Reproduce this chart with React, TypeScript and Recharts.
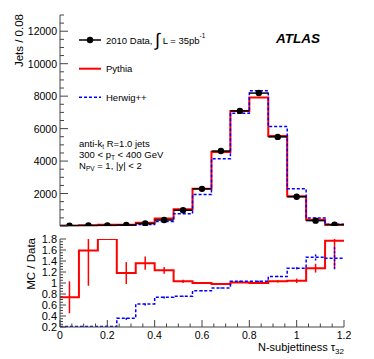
import React from "react";
import { ComposedChart, Line, Scatter, XAxis, YAxis, ErrorBar, Label } from "recharts";

// 15 bins of width 0.08 in tau32
const binLow = [0, 0.08, 0.16, 0.24, 0.32, 0.4, 0.48, 0.56, 0.64, 0.72, 0.8, 0.88, 0.96, 1.04, 1.12];
const binWidth = 0.08;

// upper panel: jets / 0.08
const dataCounts = [25, 30, 40, 60, 150, 370, 970, 2290, 4620, 7090, 8190, 5490, 1800, 330, 80];
const pythiaCounts = [18, 48, 80, 70, 200, 460, 1030, 2290, 4560, 7090, 7920, 5550, 1835, 390, 70];
const herwigCounts = [5, 6, 8, 22, 95, 270, 760, 1940, 4150, 6950, 8330, 6130, 2290, 495, 110];

// lower panel: MC / Data
const pythiaRatio = [0.74, 1.59, 1.8, 1.18, 1.36, 1.23, 1.03, 1.0, 0.98, 1.01, 1.0, 1.03, 1.04, 1.27, 1.77];
const pythiaRatioErr = [0.29, 0.64, 0, 0.2, 0.12, 0.06, 0.03, 0.02, 0.01, 0.01, 0.01, 0.02, 0.04, 0.08, 0.5];
const herwigRatio = [0.21, 0.21, 0.21, 0.36, 0.62, 0.74, 0.76, 0.86, 0.91, 1.03, 1.03, 1.12, 1.27, 1.47, 1.45];
const herwigRatioErr = [0, 0, 0.02, 0.03, 0.03, 0.02, 0.01, 0.01, 0.01, 0.01, 0.01, 0.01, 0.02, 0.06, 0.2];

// tick labels
const xLabels = [0, 0.2, 0.4, 0.6, 0.8, 1, 1.2];
const upperYLabels = [2000, 4000, 6000, 8000, 10000, 12000];
const lowerYLabels = [0.2, 0.4, 0.6, 0.8, 1, 1.2, 1.4, 1.6, 1.8];

const upperDomain: [number, number] = [0, 13000];
const lowerDomain: [number, number] = [0.2, 1.8];

const range = (a: number, b: number, step: number) => {
  const out: number[] = [];
  const n = Math.round((b - a) / step);
  for (let i = 0; i <= n; i++) out.push(Math.round((a + i * step) * 1000) / 1000);
  return out;
};
const xTicks = range(0, 1.2, 0.05);
const upperYTicks = range(0, 13000, 500);
const lowerYTicks = range(0.2, 1.8, 0.05);

const FONT = "'Liberation Sans', Arial, Helvetica, sans-serif";
const FRAME = "#444";

const stepData = (vals: number[]) => [
  ...binLow.map((x, i) => ({ x, y: vals[i] })),
  { x: binLow[binLow.length - 1] + binWidth, y: vals[vals.length - 1] },
];
// error bars are cut at the frame like ROOT does
const pointData = (vals: number[], errs?: number[], dom?: [number, number]) =>
  binLow.map((lo, i) => {
    const e = errs ? errs[i] : 0;
    const v = vals[i];
    const down = dom ? Math.max(0, Math.min(e, v - dom[0])) : e;
    const up = dom ? Math.max(0, Math.min(e, dom[1] - v)) : e;
    return { x: lo + binWidth / 2, y: v, ex: binWidth / 2, ey: [down, up] };
  });

type Side = "left" | "right" | "top" | "bottom";
const near = (a: number, b: number) => Math.abs(a - b) < 1e-6;
const isMult = (v: number, step: number) => near(v / step, Math.round(v / step));

function frameTick(side: Side, major: number, majorLen: number, minorLen: number, labels: number[] | null, fontSize: number) {
  return (props: any) => {
    const { x, y, payload } = props;
    const v = payload.value;
    const len = isMult(v, major) ? majorLen : minorLen;
    let x2 = x;
    let y2 = y;
    if (side === "left") x2 = x + len;
    if (side === "right") x2 = x - len;
    if (side === "top") y2 = y + len;
    if (side === "bottom") y2 = y - len;
    const show = labels && labels.some((l) => near(l, v));
    return (
      <g>
        <line x1={x} y1={y} x2={x2} y2={y2} stroke={FRAME} strokeWidth={1} />
        {show && side === "left" && (
          <text x={x - 3} y={y} textAnchor="end" dominantBaseline="central" fontSize={fontSize} fontFamily={FONT} fill="#000">
            {String(v)}
          </text>
        )}
        {show && side === "bottom" && (
          <text x={x} y={y + 8} textAnchor="middle" dominantBaseline="central" fontSize={fontSize} fontFamily={FONT} fill="#000">
            {String(v)}
          </text>
        )}
      </g>
    );
  };
}

const Empty = () => <g />;
const Dot = (p: any) => <circle cx={p.cx} cy={p.cy} r={3.2} fill="#000" />;

const yTitle = (text: string, dx: number) => (p: any) => {
  const vb = p.viewBox;
  return (
    <text
      transform={`translate(${vb.x + dx}, ${vb.y - 1}) rotate(-90)`}
      textAnchor="end"
      dominantBaseline="central"
      fontSize={11.5}
      fontFamily={FONT}
      fill="#000"
    >
      {text}
    </text>
  );
};

const xTitle = (p: any) => {
  const vb = p.viewBox;
  return (
    <text x={vb.x + vb.width} y={vb.y + 24} textAnchor="end" fontSize={11} fontFamily={FONT} fill="#000">
      N-subjettiness τ
      <tspan fontSize={8} dy={3}>32</tspan>
    </text>
  );
};

export default function App() {
  return (
    <div style={{ position: "absolute", left: 0, top: 0, width: 374, height: 359, background: "#fff" }}>
      <ComposedChart width={374} height={232} margin={{ top: 15, right: 30, bottom: 6, left: 0 }}>
        <XAxis dataKey="x" type="number" domain={[0, 1.2]} allowDataOverflow ticks={xTicks} interval={0}
          height={0} tickSize={0} tickMargin={0} tickLine={false} axisLine={{ stroke: FRAME }}
          tick={frameTick("bottom", 0.2, 5, 3, null, 11)} />
        <XAxis xAxisId="t" orientation="top" type="number" domain={[0, 1.2]} allowDataOverflow ticks={xTicks} interval={0}
          height={0} tickSize={0} tickMargin={0} tickLine={false} axisLine={{ stroke: FRAME }}
          tick={frameTick("top", 0.2, 5, 3, null, 11)} />
        <YAxis dataKey="y" type="number" domain={upperDomain} allowDataOverflow ticks={upperYTicks} interval={0}
          width={60} tickSize={0} tickMargin={0} tickLine={false} axisLine={{ stroke: FRAME }}
          tick={frameTick("left", 2000, 8, 4, upperYLabels, 10.5)}>
          <Label content={yTitle("Jets / 0.08", 19)} />
        </YAxis>
        <YAxis yAxisId="r" orientation="right" type="number" domain={upperDomain} allowDataOverflow ticks={upperYTicks} interval={0}
          width={0} tickSize={0} tickMargin={0} tickLine={false} axisLine={{ stroke: FRAME }}
          tick={frameTick("right", 2000, 8, 4, null, 10.5)} />

        <Line data={stepData(pythiaCounts)} dataKey="y" type="stepAfter" stroke="#ff0000" strokeWidth={2}
          dot={false} isAnimationActive={false} />
        <Line data={stepData(herwigCounts)} dataKey="y" type="stepAfter" stroke="#0000ff" strokeWidth={1.5}
          strokeDasharray="3 2" dot={false} isAnimationActive={false} />
        <Scatter data={pointData(dataCounts)} shape={Dot} isAnimationActive={false}>
          <ErrorBar dataKey="ex" direction="x" width={0} stroke="#000" strokeWidth={1.5} />
        </Scatter>
      </ComposedChart>

      <ComposedChart width={374} height={127} margin={{ top: 7, right: 30, bottom: 0, left: 0 }}>
        <XAxis dataKey="x" type="number" domain={[0, 1.2]} allowDataOverflow ticks={xTicks} interval={0}
          height={32} tickSize={0} tickMargin={0} tickLine={false} axisLine={{ stroke: FRAME }}
          tick={frameTick("bottom", 0.2, 7, 3.5, xLabels, 10.5)}>
          <Label content={xTitle} />
        </XAxis>
        <XAxis xAxisId="t" orientation="top" type="number" domain={[0, 1.2]} allowDataOverflow ticks={xTicks} interval={0}
          height={0} tickSize={0} tickMargin={0} tickLine={false} axisLine={{ stroke: FRAME }}
          tick={frameTick("top", 0.2, 7, 3.5, null, 11)} />
        <YAxis dataKey="y" type="number" domain={lowerDomain} allowDataOverflow ticks={lowerYTicks} interval={0}
          width={60} tickSize={0} tickMargin={0} tickLine={false} axisLine={{ stroke: FRAME }}
          tick={frameTick("left", 0.2, 6, 3, lowerYLabels, 11)}>
          <Label content={yTitle("MC / Data", 31)} />
        </YAxis>
        <YAxis yAxisId="r" orientation="right" type="number" domain={lowerDomain} allowDataOverflow ticks={lowerYTicks} interval={0}
          width={0} tickSize={0} tickMargin={0} tickLine={false} axisLine={{ stroke: FRAME }}
          tick={frameTick("right", 0.2, 6, 3, null, 11)} />

        <Line data={stepData(pythiaRatio)} dataKey="y" type="stepAfter" stroke="#ff0000" strokeWidth={2}
          dot={false} isAnimationActive={false} />
        <Scatter data={pointData(pythiaRatio, pythiaRatioErr, lowerDomain)} shape={Empty} isAnimationActive={false}>
          <ErrorBar dataKey="ey" direction="y" width={0} stroke="#ff0000" strokeWidth={1.5} />
        </Scatter>
        <Line data={stepData(herwigRatio)} dataKey="y" type="stepAfter" stroke="#0000ff" strokeWidth={1.5}
          strokeDasharray="3 2" dot={false} isAnimationActive={false} />
        <Scatter data={pointData(herwigRatio, herwigRatioErr, lowerDomain)} shape={Empty} isAnimationActive={false}>
          <ErrorBar dataKey="ey" direction="y" width={0} stroke="#0000ff" strokeWidth={1.5} strokeDasharray="2 2" />
        </Scatter>
      </ComposedChart>

      {/* legend and labels */}
      <svg width={374} height={232} style={{ position: "absolute", left: 0, top: 0, pointerEvents: "none" }}
        fontFamily={FONT}>
        <line x1={79} x2={101} y1={40} y2={40} stroke="#000" strokeWidth={1.5} />
        <circle cx={90} cy={40} r={3.2} fill="#000" />
        <text x={106} y={40} fontSize={9.5} dominantBaseline="central">
          2010 Data, <tspan fontSize={18}>∫</tspan> L = 35pb
          <tspan fontSize={6.5} dy={-5}>-1</tspan>
        </text>
        <line x1={79} x2={101} y1={68.7} y2={68.7} stroke="#ff0000" strokeWidth={2} />
        <text x={106} y={68.7} fontSize={9.5} dominantBaseline="central">Pythia</text>
        <line x1={79} x2={101} y1={97.3} y2={97.3} stroke="#0000ff" strokeWidth={1.5} strokeDasharray="3 2" />
        <text x={106} y={97.3} fontSize={9.5} dominantBaseline="central">Herwig++</text>

        <text x={276} y={43} fontSize={13.5} fontWeight="bold" fontStyle="italic">ATLAS</text>

        <text x={79} y={146.5} fontSize={9.5}>
          anti-k<tspan fontSize={6.5} dy={2}>t</tspan><tspan dy={-2}> R=1.0 jets</tspan>
        </text>
        <text x={79} y={157.5} fontSize={9.5}>
          300 &lt; p<tspan fontSize={6.5} dy={2}>T</tspan><tspan dy={-2}> &lt; 400 GeV</tspan>
        </text>
        <text x={79} y={168.5} fontSize={9.5}>
          N<tspan fontSize={6.5} dy={2}>PV</tspan><tspan dy={-2}> = 1, |y| &lt; 2</tspan>
        </text>
      </svg>
    </div>
  );
}
